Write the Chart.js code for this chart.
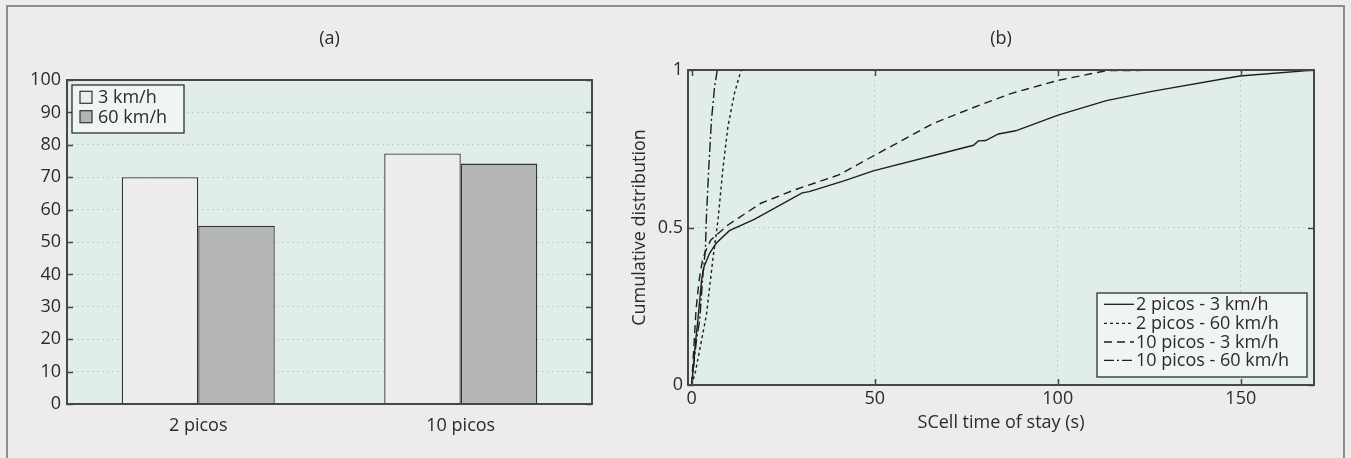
<!DOCTYPE html>
<html><head><meta charset="utf-8">
<script src="https://cdn.jsdelivr.net/npm/chart.js@4.4.0/dist/chart.umd.min.js"></script>
<style>
html,body{margin:0;padding:0;background:#edecea;width:1351px;height:458px;overflow:hidden;}
#frame{position:absolute;left:6px;top:5px;width:1339px;height:480px;border:2px solid #8c8c8c;box-sizing:border-box;}
#c1{position:absolute;left:0;top:0;}
#c2{position:absolute;left:600px;top:0;}
</style></head><body>
<div id="frame"></div>
<canvas id="c1" width="600" height="458"></canvas>
<canvas id="c2" width="751" height="458"></canvas>
<script>
// ---------- data (a) ----------
const categories = ['2 picos', '10 picos'];
const speedLabels = ['3 km/h', '60 km/h'];
const values3kmh = [70, 77.3];
const values60kmh = [55, 74.2];
const yTicksA = [0, 10, 20, 30, 40, 50, 60, 70, 80, 90, 100];

// ---------- data (b) ----------
const seriesNames = ['2 picos - 3 km/h', '2 picos - 60 km/h', '10 picos - 3 km/h', '10 picos - 60 km/h'];
const p2s3X = [0, 0.5, 1, 1.7, 2.7, 3.4, 4.9, 6.7, 10.3, 17.1, 30.2, 32.1, 41.6, 49.6, 77.0, 78.3, 80.3, 83.8, 88.5, 100.1, 113.3, 125.7, 149.7, 170.4];
const p2s3Y = [0, 0.06, 0.13, 0.206, 0.333, 0.376, 0.418, 0.45, 0.49, 0.526, 0.61, 0.614, 0.648, 0.68, 0.761, 0.775, 0.776, 0.797, 0.807, 0.857, 0.903, 0.932, 0.981, 1.0];
const p2s60X = [0, 1, 2, 3, 4, 4.5, 5.8, 7.2, 8.5, 9.9, 11.7, 13.5];
const p2s60Y = [0, 0.04, 0.1, 0.16, 0.22, 0.27, 0.4, 0.524, 0.683, 0.82, 0.926, 1.0];
const p10s3X = [0, 0.6, 1.2, 2, 3, 4, 5.2, 9.9, 18.9, 28, 40.2, 49.6, 66.1, 77, 87.4, 100.1, 113.3, 140];
const p10s3Y = [0, 0.12, 0.24, 0.33, 0.4, 0.43, 0.46, 0.508, 0.577, 0.619, 0.667, 0.727, 0.831, 0.881, 0.926, 0.967, 0.998, 1.0];
const p10s60X = [0, 0.7, 1.4, 2.2, 3.1, 3.75, 4.0, 4.64, 5.4, 6.27, 7.0];
const p10s60Y = [0, 0.08, 0.15, 0.206, 0.355, 0.43, 0.524, 0.683, 0.84, 0.947, 1.0];
const xTicksB = [0, 50, 100, 150];
const yTicksB = [0, 0.5, 1];

const FONT = 'Open Sans';
const FS = 18;
const TXT = '#2b2b2b';
const PLOT_BG = '#e0edea';
const FRAME = '#474747';

function plotBg(id) {
  return { id: id, beforeDraw(chart) {
    const a = chart.chartArea, c = chart.ctx;
    c.save(); c.fillStyle = PLOT_BG; c.fillRect(a.left, a.top, a.right - a.left, a.bottom - a.top); c.restore();
  }};
}
function frameTicks(chart, xTicks, yTicks) {
  const a = chart.chartArea, c = chart.ctx, L = 6;
  c.save();
  c.strokeStyle = FRAME; c.lineWidth = 1.5;
  c.beginPath();
  yTicks.forEach(v => {
    const y = Math.round(chart.scales.y.getPixelForValue(v)) + 0.5;
    c.moveTo(a.left, y); c.lineTo(a.left + L, y);
    c.moveTo(a.right, y); c.lineTo(a.right - L, y);
  });
  xTicks.forEach(v => {
    const x = Math.round(chart.scales.x.getPixelForValue(v)) + 0.5;
    c.moveTo(x, a.bottom); c.lineTo(x, a.bottom - L);
    c.moveTo(x, a.top); c.lineTo(x, a.top + L);
  });
  c.stroke();
  c.lineWidth = 2;
  c.strokeRect(a.left, a.top, a.right - a.left, a.bottom - a.top);
  c.restore();
}

// ---------- chart (a) ----------
new Chart(document.getElementById('c1'), {
  type: 'bar',
  data: {
    labels: categories,
    datasets: [
      { label: speedLabels[0], data: values3kmh, backgroundColor: '#efedeb', borderColor: '#333', borderWidth: 1.3 },
      { label: speedLabels[1], data: values60kmh, backgroundColor: '#b4b5b7', borderColor: '#333', borderWidth: 1.3 }
    ]
  },
  options: {
    responsive: false, devicePixelRatio: 1, animation: false,
    categoryPercentage: 0.583, barPercentage: 1,
    layout: { padding: { left: 0, top: 80, right: 8, bottom: 0 } },
    plugins: { legend: { display: false }, title: { display: false }, tooltip: { enabled: false } },
    scales: {
      x: {
        grid: { display: false }, border: { display: false },
        ticks: { color: TXT, font: { family: FONT, size: FS }, padding: 3 },
        afterFit(s) { s.height = 54; }
      },
      y: {
        min: 0, max: 100,
        afterBuildTicks(s) { s.ticks = yTicksA.map(v => ({ value: v })); },
        grid: { drawTicks: false, color: ctx => (ctx.tick && (ctx.tick.value === 0 || ctx.tick.value === 100)) ? 'rgba(0,0,0,0)' : '#c5cdcb', lineWidth: 1 },
        border: { display: false, dash: [2, 3] },
        ticks: { color: TXT, font: { family: FONT, size: FS }, padding: 6 },
        afterFit(s) { s.width = 67; }
      }
    }
  },
  plugins: [plotBg('bgA'), {
    id: 'decorA',
    afterDraw(chart) {
      frameTicks(chart, [], yTicksA);
      const c = chart.ctx;
      c.save();
      c.font = FS + 'px "' + FONT + '"'; c.fillStyle = TXT; c.textAlign = 'center'; c.textBaseline = 'middle';
      c.fillText('(a)', (chart.chartArea.left + chart.chartArea.right) / 2, 39);
      // legend
      c.fillStyle = '#eef5f4'; c.strokeStyle = '#2f2f2f'; c.lineWidth = 1.3;
      c.fillRect(72, 85, 112, 48); c.strokeRect(72, 85, 112, 48);
      const rows = [97.3, 116.7];
      chart.data.datasets.forEach((ds, i) => {
        c.fillStyle = ds.backgroundColor; c.fillRect(80, rows[i] - 6, 12, 12);
        c.strokeStyle = '#333'; c.lineWidth = 1.2; c.strokeRect(80, rows[i] - 6, 12, 12);
        c.fillStyle = TXT; c.textAlign = 'left'; c.fillText(ds.label, 98, rows[i] + 1);
      });
      c.restore();
    }
  }]
});

// ---------- chart (b) ----------
const dashes = [[], [3, 3], [8, 5], [10, 3, 2, 3]];
const xsB = [p2s3X, p2s60X, p10s3X, p10s60X];
const ysB = [p2s3Y, p2s60Y, p10s3Y, p10s60Y];
new Chart(document.getElementById('c2'), {
  type: 'scatter',
  data: {
    datasets: seriesNames.map((n, i) => ({
      label: n,
      data: xsB[i].map((x, k) => ({ x: x, y: ysB[i][k] })),
      showLine: true, borderColor: '#1e1e1e', borderWidth: 1.4, borderDash: dashes[i],
      pointRadius: 0, tension: 0, fill: false
    }))
  },
  options: {
    responsive: false, devicePixelRatio: 1, animation: false,
    layout: { padding: { left: 0, top: 70, right: 37, bottom: 0 } },
    plugins: { legend: { display: false }, title: { display: false }, tooltip: { enabled: false } },
    scales: {
      x: {
        type: 'linear', min: -1, max: 170,
        afterBuildTicks(s) { s.ticks = xTicksB.map(v => ({ value: v })); },
        grid: { drawTicks: false, color: ctx => (ctx.tick && ctx.tick.value === 0) ? 'rgba(0,0,0,0)' : '#c5cdcb' },
        border: { display: false, dash: [2, 3] },
        ticks: { color: TXT, font: { family: FONT, size: FS }, padding: 3 },
        afterFit(s) { s.height = 73; }
      },
      y: {
        min: 0, max: 1,
        afterBuildTicks(s) { s.ticks = yTicksB.map(v => ({ value: v })); },
        grid: { drawTicks: false, color: ctx => (ctx.tick && (ctx.tick.value === 0 || ctx.tick.value === 1)) ? 'rgba(0,0,0,0)' : '#c5cdcb' },
        border: { display: false, dash: [2, 3] },
        ticks: { color: TXT, font: { family: FONT, size: FS }, padding: 5, callback: v => String(v) },
        afterFit(s) { s.width = 88; }
      }
    }
  },
  plugins: [plotBg('bgB'), {
    id: 'decorB',
    afterDraw(chart) {
      frameTicks(chart, xTicksB, yTicksB);
      const c = chart.ctx, a = chart.chartArea;
      c.save();
      c.font = FS + 'px "' + FONT + '"'; c.fillStyle = TXT; c.textAlign = 'center'; c.textBaseline = 'middle';
      c.fillText('(b)', (a.left + a.right) / 2, 39);
      c.fillText('SCell time of stay (s)', (a.left + a.right) / 2, 423);
      c.save(); c.translate(40, (a.top + a.bottom) / 2); c.rotate(-Math.PI / 2);
      c.fillText('Cumulative distribution', 0, 0); c.restore();
      // legend
      c.fillStyle = '#eef5f4'; c.strokeStyle = '#2f2f2f'; c.lineWidth = 1.3;
      c.fillRect(497, 293, 210, 84); c.strokeRect(497, 293, 210, 84);
      const rows = [304.3, 323.3, 342, 360.3];
      chart.data.datasets.forEach((ds, i) => {
        c.strokeStyle = '#1e1e1e'; c.lineWidth = 1.3; c.setLineDash(ds.borderDash);
        c.beginPath(); c.moveTo(504, rows[i]); c.lineTo(534, rows[i]); c.stroke();
        c.setLineDash([]);
        c.fillStyle = TXT; c.textAlign = 'left'; c.fillText(ds.label, 536, rows[i] + 1);
      });
      c.restore();
    }
  }]
});
</script>
</body></html>
